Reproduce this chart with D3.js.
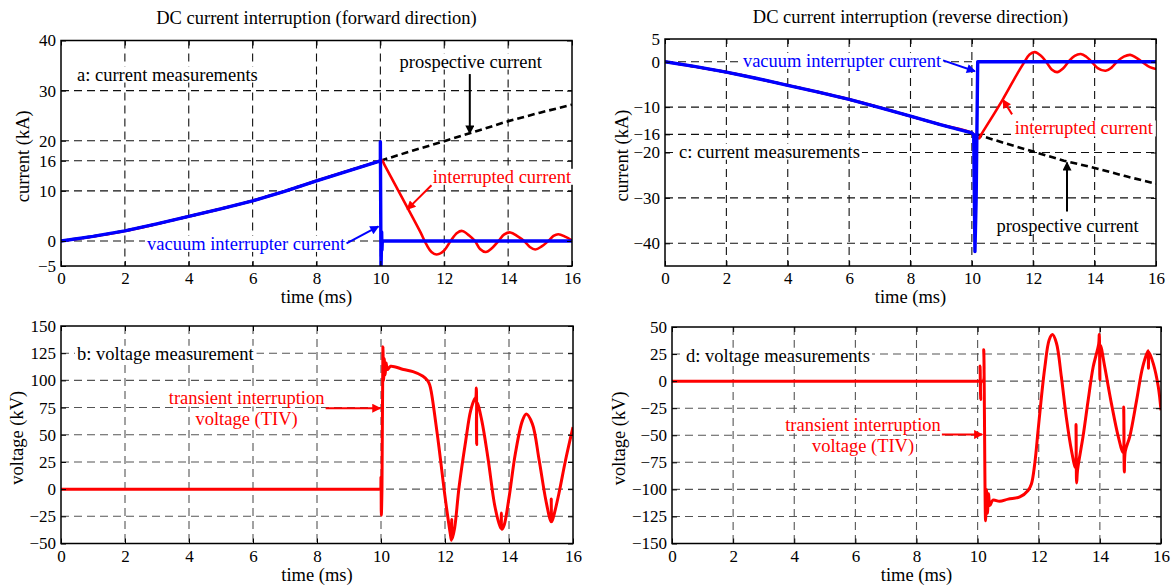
<!DOCTYPE html>
<meta charset="utf-8">
<head>
<style>
    body { margin: 0; background: #fff; }
    svg text { font-family: "Liberation Serif", "Times New Roman", serif; }
</style>
</head>
<body>
<script src="https://d3js.org/d3.v7.min.js"></script>
<script>
// ---- data (time in ms) ----
var timeTicks = [0, 2, 4, 6, 8, 10, 12, 14, 16];
var fwdCurrentTicks = [-5, 0, 10, 16, 20, 30, 40];
var revCurrentTicks = [-40, -30, -20, -16, -10, 0, 5];
var fwdVoltageTicks = [-50, -25, 0, 25, 50, 75, 100, 125, 150];
var revVoltageTicks = [-150, -125, -100, -75, -50, -25, 0, 25, 50];

// forward direction currents (kA)
var fwdProspective = [[0, 0], [1, 0.9], [2, 2.0], [3, 3.4], [4, 4.9], [5, 6.4], [6, 8.0], [7, 9.9], [8, 12.0],
    [9, 14.0], [10, 16.0], [11, 18.0], [12, 19.9], [13, 21.9], [14, 23.9], [15, 25.6], [16, 27.2]];
var fwdInterrupted = [[0, 0], [1, 0.9], [2, 2.0], [3, 3.4], [4, 4.9], [5, 6.4], [6, 8.0], [7, 9.9], [8, 12.0],
    [9, 14.0], [9.9, 15.8], [10.05, 16.1], [10.12, 15.3], [10.7, 8.4], [11.25, 1.8], [11.45, -0.8], [11.6, -2.2],
    [11.76, -2.7], [11.98, -2.0], [12.2, 0], [12.4, 1.6], [12.56, 2.0], [12.78, 1.1], [12.96, 0], [13.12, -1.6],
    [13.3, -2.2], [13.5, -1.4], [13.7, 0], [13.88, 1.3], [14.07, 1.7], [14.3, 0.9], [14.5, 0], [14.68, -1.2],
    [14.85, -1.7], [15.05, -1.1], [15.26, 0], [15.42, 1.0], [15.57, 1.35], [15.8, 0.8], [16, 0.1]];
var fwdVacuum = [[0, 0], [1, 0.9], [2, 2.0], [3, 3.4], [4, 4.9], [5, 6.4], [6, 8.0], [7, 9.9], [8, 12.0],
    [9, 14.0], [10, 16.0], [10, 19.8], [10.02, -6], [10.04, 1.8], [10.05, -1.8], [10.06, 0], [16, 0]];

// reverse direction currents (kA)
var revProspective = [[0, 0], [1, -1.1], [2, -2.3], [3, -3.7], [4, -5.2], [5, -6.7], [6, -8.3], [7, -10.1],
    [8, -12.0], [9, -13.9], [10, -15.7], [11, -17.8], [12, -19.8], [13, -21.8], [14, -23.4], [15, -25.2], [16, -26.9]];
var revInterrupted = [[0, 0], [1, -1.1], [2, -2.3], [3, -3.7], [4, -5.2], [5, -6.7], [6, -8.3], [7, -10.1],
    [8, -12.0], [9, -13.9], [10, -15.7], [10.23, -16.9], [10.3, -16.1], [11.0, -8.4], [11.5, -2.4], [11.7, -0.2],
    [11.88, 1.6], [12.05, 2.1], [12.25, 1.3], [12.42, 0], [12.6, -1.7], [12.78, -2.3], [12.97, -1.5], [13.15, 0],
    [13.35, 1.3], [13.55, 1.7], [13.73, 1.1], [13.9, 0], [14.1, -1.4], [14.36, -2.0], [14.55, -1.3], [14.73, 0],
    [14.95, 1.1], [15.16, 1.5], [15.35, 0.9], [15.54, 0], [15.8, -1.2], [16, -1.6]];
var revVacuum = [[0, 0], [1, -1.1], [2, -2.3], [3, -3.7], [4, -5.2], [5, -6.7], [6, -8.3], [7, -10.1],
    [8, -12.0], [9, -13.9], [10, -15.7], [10.06, -16.1], [10.1, -41.8], [10.14, -30], [10.19, 0], [16, 0]];

// voltages across the breaker (kV)
var fwdVoltage = [[0, 0], [1, 0], [2, 0], [3, 0], [4, 0], [5, 0], [6, 0], [7, 0], [8, 0], [9, 0], [9.9, 0],
    [9.96, 0], [9.98, 0], [10.0, 11], [10.01, -24], [10.03, 0], [10.06, 131], [10.08, 100], [10.1, 120],
    [10.13, 105], [10.16, 116], [10.2, 110], [10.3, 113], [10.7, 110], [11.0, 108], [11.3, 104], [11.45, 100],
    [11.52, 96], [11.58, 88], [11.66, 72], [11.81, 39], [11.97, 0], [12.07, -22], [12.17, -42], [12.2, -47],
    [12.21, -28], [12.22, -46], [12.3, -36], [12.44, 2], [12.65, 45], [12.8, 72], [12.93, 83], [12.96, 84],
    [12.98, 93], [12.99, 41], [13.0, 80], [13.15, 63], [13.35, 27], [13.56, -16], [13.74, -36], [13.76, -22],
    [13.78, -37], [13.85, -33], [14.0, -8], [14.2, 33], [14.42, 63], [14.54, 69], [14.73, 60], [14.94, 27],
    [15.15, -10], [15.31, -30], [15.32, -9], [15.34, -30], [15.42, -22], [15.56, -4], [15.77, 27], [16, 57]];
var revVoltage = [[0, 0], [1, 0], [2, 0], [3, 0], [4, 0], [5, 0], [6, 0], [7, 0], [8, 0], [9, 0], [10.0, 0],
    [10.05, 0], [10.07, 0], [10.08, 14], [10.1, -17], [10.12, 0], [10.18, 0], [10.2, 29], [10.26, -129],
    [10.29, -100], [10.32, -122], [10.36, -104], [10.4, -115], [10.5, -110], [10.72, -111], [11.0, -109],
    [11.38, -107], [11.65, -101], [11.76, -95], [11.87, -76], [11.98, -45], [12.09, -14], [12.2, 13], [12.34, 38],
    [12.45, 43], [12.58, 35], [12.74, 4], [12.9, -33], [13.07, -64], [13.2, -80], [13.22, -40], [13.24, -94],
    [13.27, -82], [13.45, -51], [13.62, -17], [13.78, 13], [13.96, 34], [13.98, 43], [14.0, 1], [14.02, 33],
    [14.16, 13], [14.38, -21], [14.6, -51], [14.76, -66], [14.78, -24], [14.8, -84], [14.83, -65], [14.98, -51],
    [15.2, -18], [15.4, 13], [15.58, 28], [15.59, 12], [15.6, 27], [15.75, 16], [15.91, -5], [16, -27]];

var RED = "#ff0000", BLUE = "#0000ff";

var svg = d3.select("body").append("svg")
    .attr("width", 1176)
    .attr("height", 586);

var defs = svg.append("defs");
[["head-black", "#000"], ["head-red", RED], ["head-blue", BLUE]].forEach(function(m) {
    defs.append("marker")
        .attr("id", m[0])
        .attr("viewBox", "0 0 10 10")
        .attr("refX", 9).attr("refY", 5)
        .attr("markerUnits", "userSpaceOnUse")
        .attr("markerWidth", 12).attr("markerHeight", 9)
        .attr("orient", "auto")
        .append("path")
        .attr("d", "M0,0 L10,5 L0,10 z")
        .attr("fill", m[1]);
});

// panel layouts
var panels = [{
    id: "a", left: 61, right: 572, top: 40.5, bottom: 266,
    yDomain: [-5, 40], yTicks: fwdCurrentTicks, grid: "#111",
    title: "DC current interruption (forward direction)", ylabel: "current (kA)", ylabelX: 29,
    series: [
        { data: fwdProspective, color: "#000", width: 2.6, dash: "7,4" },
        { data: fwdInterrupted, color: RED, width: 2.6, smooth: true },
        { data: fwdVacuum, color: BLUE, width: 3.4 }
    ],
    notes: [
        { text: "a: current measurements", t: 0.5, v: 33.3, color: "#000" },
        { text: "prospective current", t: 10.6, v: 35.9, color: "#000" },
        { text: "interrupted current", t: 15.97, v: 12.9, color: RED, anchor: "end" },
        { text: "vacuum interrupter current", t: 8.9, v: -0.5, color: BLUE, anchor: "end" }
    ],
    arrows: [
        { from: [12.8, 33.3], to: [12.8, 21.4], head: "head-black", color: "#000" },
        { from: [11.6, 11.1], to: [10.84, 6.3], head: "head-red", color: RED },
        { from: [8.94, -0.5], to: [9.94, 2.9], head: "head-blue", color: BLUE }
    ]
}, {
    id: "c", left: 665, right: 1156, top: 39, bottom: 266,
    yDomain: [-45, 5], yTicks: revCurrentTicks, grid: "#111",
    title: "DC current interruption (reverse direction)", ylabel: "current (kA)", ylabelX: 628,
    series: [
        { data: revProspective, color: "#000", width: 2.6, dash: "7,4" },
        { data: revInterrupted, color: RED, width: 2.6, smooth: true },
        { data: revVacuum, color: BLUE, width: 3.4 }
    ],
    notes: [
        { text: "vacuum interrupter current", t: 9.0, v: 0.3, color: BLUE, anchor: "end" },
        { text: "interrupted current", t: 15.9, v: -14.6, color: RED, anchor: "end" },
        { text: "c: current measurements", t: 0.46, v: -19.7, color: "#000" },
        { text: "prospective current", t: 10.8, v: -36.1, color: "#000" }
    ],
    arrows: [
        { from: [9.06, 0.3], to: [10.1, -2.1], head: "head-blue", color: BLUE },
        { from: [11.31, -11.6], to: [11.01, -8.4], head: "head-red", color: RED },
        { from: [13.1, -33], to: [13.1, -22.2], head: "head-black", color: "#000" }
    ]
}, {
    id: "b", left: 61, right: 573, top: 326, bottom: 543.5,
    yDomain: [-50, 150], yTicks: fwdVoltageTicks, grid: "#555",
    ylabel: "voltage (kV)", ylabelX: 23,
    series: [{ data: fwdVoltage, color: RED, width: 3, smooth: true }],
    notes: [
        { text: "b: voltage measurement", t: 0.5, v: 124.9, color: "#000" },
        { text: "transient interruption", t: 5.8, v: 83.8, color: RED, anchor: "middle" },
        { text: "voltage (TIV)", t: 5.8, v: 64.5, color: RED, anchor: "middle" }
    ],
    arrows: [{ from: [8.27, 74.4], to: [9.98, 74.4], head: "head-red", color: RED }]
}, {
    id: "d", left: 672, right: 1161, top: 327, bottom: 543.5,
    yDomain: [-150, 50], yTicks: revVoltageTicks, grid: "#555",
    ylabel: "voltage (kV)", ylabelX: 625,
    series: [{ data: revVoltage, color: RED, width: 3, smooth: true }],
    notes: [
        { text: "d: voltage measurements", t: 0.46, v: 23.9, color: "#000" },
        { text: "transient interruption", t: 6.25, v: -40.2, color: RED, anchor: "middle" },
        { text: "voltage (TIV)", t: 6.25, v: -59.5, color: RED, anchor: "middle" }
    ],
    arrows: [{ from: [8.83, -49.4], to: [10.15, -49.4], head: "head-red", color: RED }]
}];

panels.forEach(drawPanel);

function drawPanel(p) {
    var x = d3.scaleLinear().domain([0, 16]).range([p.left, p.right]);
    var y = d3.scaleLinear().domain(p.yDomain).range([p.bottom, p.top]);
    var g = svg.append("g").attr("class", "panel-" + p.id);

    defs.append("clipPath").attr("id", "clip-" + p.id)
        .append("rect")
        .attr("x", p.left).attr("y", p.top)
        .attr("width", p.right - p.left).attr("height", p.bottom - p.top);

    // dashed grid, skipping the frame edges
    g.selectAll(".gx")
        .data(timeTicks.filter(function(d) { return d > 0 && d < 16; }))
        .enter().append("line")
        .attr("x1", function(d) { return x(d); }).attr("x2", function(d) { return x(d); })
        .attr("y1", p.top).attr("y2", p.bottom)
        .attr("stroke", p.grid).attr("stroke-width", 1.1).attr("stroke-dasharray", "8,5");
    g.selectAll(".gy")
        .data(p.yTicks.filter(function(d) { return d > p.yDomain[0] && d < p.yDomain[1]; }))
        .enter().append("line")
        .attr("x1", p.left).attr("x2", p.right)
        .attr("y1", function(d) { return y(d); }).attr("y2", function(d) { return y(d); })
        .attr("stroke", p.grid).attr("stroke-width", 1.1).attr("stroke-dasharray", "8,5");

    // traces
    var plot = g.append("g").attr("clip-path", "url(#clip-" + p.id + ")");
    p.series.forEach(function(s) {
        var line = d3.line()
            .x(function(d) { return x(d[0]); })
            .y(function(d) { return y(d[1]); })
            .curve(s.smooth ? d3.curveCatmullRom.alpha(0.5) : d3.curveLinear);
        plot.append("path")
            .datum(s.data)
            .attr("fill", "none")
            .attr("stroke", s.color)
            .attr("stroke-width", s.width)
            .attr("stroke-linejoin", "round")
            .attr("stroke-dasharray", s.dash || null)
            .attr("d", line);
    });

    // axes, MATLAB style: ticks inside on all four sides
    var bottomAxis = g.append("g")
        .attr("transform", "translate(0," + p.bottom + ")")
        .call(d3.axisBottom(x).tickValues(timeTicks).tickSizeInner(-5).tickSizeOuter(0).tickPadding(6));
    var leftAxis = g.append("g")
        .attr("transform", "translate(" + p.left + ",0)")
        .call(d3.axisLeft(y).tickValues(p.yTicks).tickSizeInner(-5).tickSizeOuter(0).tickPadding(5));
    g.append("g")
        .attr("transform", "translate(0," + p.top + ")")
        .call(d3.axisTop(x).tickValues(timeTicks).tickSizeInner(-5).tickSizeOuter(0).tickFormat(""));
    g.append("g")
        .attr("transform", "translate(" + p.right + ",0)")
        .call(d3.axisRight(y).tickValues(p.yTicks).tickSizeInner(-5).tickSizeOuter(0).tickFormat(""));
    g.selectAll(".domain").remove();
    g.selectAll(".tick line").attr("stroke", "#000");
    [bottomAxis, leftAxis].forEach(function(a) {
        a.selectAll("text")
            .attr("fill", "#000")
            .style("font-family", '"Liberation Serif", serif')
            .style("font-size", "17px");
    });

    g.append("rect")
        .attr("x", p.left).attr("y", p.top)
        .attr("width", p.right - p.left).attr("height", p.bottom - p.top)
        .attr("fill", "none").attr("stroke", "#000").attr("stroke-width", 1.5);

    // titles and axis labels
    if (p.title) {
        g.append("text")
            .attr("x", (p.left + p.right) / 2).attr("y", p.top - 16.5)
            .attr("text-anchor", "middle")
            .style("font-size", "18.5px")
            .text(p.title);
    }
    g.append("text")
        .attr("x", (p.left + p.right) / 2).attr("y", p.bottom + 37)
        .attr("text-anchor", "middle")
        .style("font-size", "18.5px")
        .text("time (ms)");
    g.append("text")
        .attr("transform", "translate(" + p.ylabelX + "," + ((p.top + p.bottom) / 2 + 3) + ") rotate(-90)")
        .attr("text-anchor", "middle")
        .style("font-size", "18.5px")
        .text(p.ylabel);

    // annotations with white background, then arrows
    p.notes.forEach(function(n) {
        var t = g.append("text")
            .attr("x", x(n.t)).attr("y", y(n.v)).attr("dy", "0.35em")
            .attr("text-anchor", n.anchor || "start")
            .attr("fill", n.color)
            .style("font-size", "18.5px")
            .text(n.text);
        var b = t.node().getBBox();
        g.insert("rect", function() { return t.node(); })
            .attr("x", b.x - 2).attr("y", b.y + 2)
            .attr("width", b.width + 4).attr("height", b.height - 4)
            .attr("fill", "#fff");
    });
    p.arrows.forEach(function(a) {
        g.append("line")
            .attr("x1", x(a.from[0])).attr("y1", y(a.from[1]))
            .attr("x2", x(a.to[0])).attr("y2", y(a.to[1]))
            .attr("stroke", a.color).attr("stroke-width", 2)
            .attr("marker-end", "url(#" + a.head + ")");
    });
}
</script>
</body>
